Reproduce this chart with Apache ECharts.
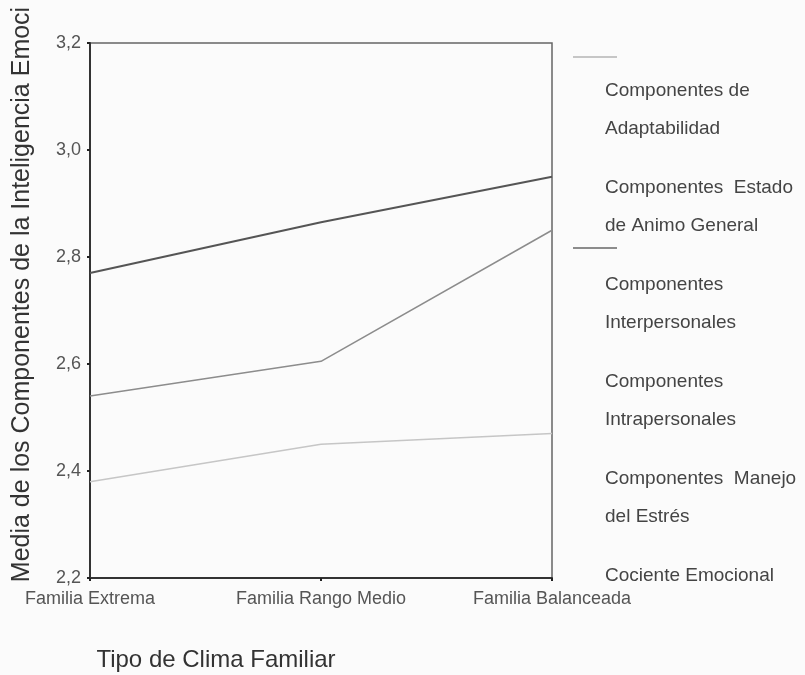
<!DOCTYPE html>
<html>
<head>
<meta charset="utf-8">
<script src="https://cdn.jsdelivr.net/npm/echarts@6/dist/echarts.min.js"></script>
<style>
html, body { margin: 0; padding: 0; background: #fbfbfb; }
#main { width: 805px; height: 675px; }
</style>
</head>
<body>
<div id="main"></div>
<script>
// categorías del eje X
var categorias = ['Familia Extrema', 'Familia Rango Medio', 'Familia Balanceada'];
// nombres de la leyenda
var componentes = [
    'Componentes de\nAdaptabilidad',
    'Componentes  Estado\nde Animo General',
    'Componentes\nInterpersonales',
    'Componentes\nIntrapersonales',
    'Componentes  Manejo\ndel Estrés',
    'Cociente Emocional'
];
// medias
var adaptabilidad = [2.38, 2.45, 2.47];
var estadoAnimo = [2.77, 2.865, 2.95];
var interpersonales = [2.54, 2.605, 2.85];
var intrapersonales = [];
var manejoEstres = [];
var cociente = [];
var ticksY = [2.2, 2.4, 2.6, 2.8, 3.0, 3.2];

var colores = ['#c6c6c6', '#555555', '#8c8c8c', '#fbfbfb', '#fbfbfb', '#fbfbfb'];
var anchos = [1.5, 2, 1.5, 1, 1, 1];
var datos = [adaptabilidad, estadoAnimo, interpersonales, intrapersonales, manejoEstres, cociente];

var fuente = '"Liberation Sans", Arial, sans-serif';

var series = componentes.map(function (nombre, i) {
    return {
        name: nombre,
        type: 'line',
        data: datos[i],
        symbol: 'none',
        color: colores[i],
        lineStyle: { width: anchos[i], color: colores[i] }
    };
});

// en el original el trazo de "Estado de Animo" no se ve en la leyenda
var trazos = componentes.map(function (nombre, i) {
    return i === 1 ? { name: nombre, itemStyle: { opacity: 0 } } : { name: nombre };
});

var myChart = echarts.init(document.getElementById('main'));
myChart.setOption({
    backgroundColor: '#fbfbfb',
    animation: false,
    textStyle: { fontFamily: fuente },
    grid: {
        left: 90, right: 253, top: 43, bottom: 97,
        outerBoundsMode: 'none',
        show: true, borderColor: '#666', borderWidth: 1.5
    },
    legend: [{
        // textos de la leyenda
        orient: 'vertical',
        left: 594, top: 67,
        itemGap: 21,
        itemWidth: 0, itemHeight: 0,
        itemStyle: { opacity: 0 },
        data: componentes,
        textStyle: { fontSize: 19, color: '#444', lineHeight: 38, fontFamily: fuente }
    }, {
        // trazos de la leyenda
        orient: 'vertical',
        left: 568, top: 51,
        itemGap: 93.5,
        itemWidth: 44, itemHeight: 2,
        icon: 'rect',
        data: trazos,
        formatter: function () { return ''; },
        textStyle: { fontSize: 1, lineHeight: 2 }
    }],
    xAxis: {
        type: 'category',
        data: categorias,
        boundaryGap: false,
        axisLine: { lineStyle: { color: '#333', width: 2 } },
        axisTick: { length: 3, lineStyle: { color: '#222', width: 2 } },
        axisLabel: { color: '#555', fontSize: 18, margin: 12 },
        name: 'Tipo de Clima Familiar',
        nameLocation: 'middle',
        nameGap: 70,
        nameTextStyle: { fontSize: 24, color: '#333', padding: [0, 210, 0, 0] }
    },
    yAxis: {
        type: 'value',
        min: 2.2, max: 3.2, interval: 0.2,
        splitLine: { show: false },
        axisLine: { show: true, lineStyle: { color: '#333', width: 2 } },
        axisTick: { show: true, length: 3, lineStyle: { color: '#222', width: 2 } },
        axisLabel: {
            color: '#555', fontSize: 18, margin: 9,
            formatter: function (v) { return v.toFixed(1).replace('.', ','); }
        },
        name: 'Media de los Componentes de la Inteligencia Emoci',
        nameLocation: 'middle',
        nameGap: 55,
        nameTextStyle: { fontSize: 25, color: '#333', padding: [0, 0, 0, 32] }
    },
    series: series
});
</script>
</body>
</html>
